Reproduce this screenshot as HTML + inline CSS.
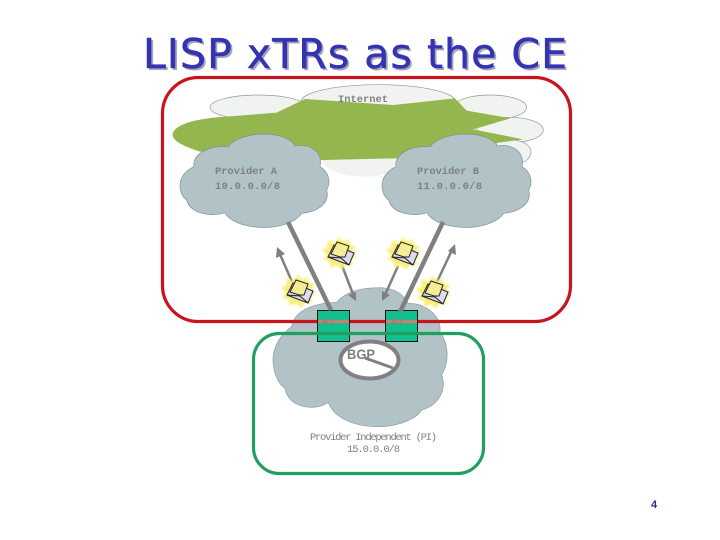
<!DOCTYPE html>
<html><head><meta charset="utf-8"><title>LISP xTRs as the CE</title>
<style>html,body{margin:0;padding:0;background:#fff}svg{display:block}
.m{font-family:"Liberation Mono",monospace;fill:#808080}
.b{font-weight:bold;font-size:10.5px}
.t{font-family:"DejaVu Sans","Liberation Sans",sans-serif;font-size:41px}
</style></head><body>
<svg width="720" height="540" viewBox="0 0 720 540" xmlns="http://www.w3.org/2000/svg">
<defs>
<filter id="bl" x="-30%" y="-30%" width="160%" height="160%"><feGaussianBlur stdDeviation="1.2"/></filter>
<g id="env">
  <polygon points="0,-17 4,-12 10,-15 10,-9 17,-8 13,-3 18,2 12,5 14,12 7,10 3,16 -2,11 -9,14 -9,7 -16,6 -12,1 -17,-4 -11,-7 -12,-14 -5,-11" fill="#f8ee78" filter="url(#bl)"/>
  <polygon points="-11,3 10,11 15,-1 -5,-9" fill="#dcdcf0" stroke="#222" stroke-width="1"/>
  <polygon points="-8,0 -2,-12 10,-8 6,3 1,3" fill="#f4ec96" stroke="#222" stroke-width="1"/>
  <polyline points="-11,3 2,4 10,11" fill="none" stroke="#222" stroke-width="1"/>
</g>
<path id="cl" d="M72,110 C65,80 105,45 175,50 C190,28 235,12 280,12 C330,12 365,28 375,48 C420,40 460,65 450,110 C475,125 485,155 470,180 C480,215 450,245 395,250 C375,280 320,295 270,292 C215,290 175,270 165,248 C120,262 60,250 50,210 C25,195 15,135 72,110 Z" fill="#b1c3c7" stroke="#7f8f94" stroke-width="2"/>
</defs>
<rect width="720" height="540" fill="#fff"/>

<!-- Internet backdrop clouds -->
<g transform="translate(130,20) scale(.3333)" fill="#f1f3f1" stroke="#8a9a90" stroke-width="2">
  <ellipse cx="385" cy="262" rx="145" ry="37"/>
  <ellipse cx="1080" cy="262" rx="110" ry="37"/>
  <ellipse cx="1140" cy="330" rx="100" ry="38"/>
  <path d="M1100,360 C1210,350 1220,400 1185,425 L1100,430 Z"/>
  <ellipse cx="745" cy="245" rx="232" ry="51"/>
  <path d="M570,410 L800,410 C800,450 770,472 700,470 C630,468 580,450 570,410 Z" stroke="none"/>
  <path d="M128,340 C140,310 200,298 260,292 L440,278 L525,237 L790,255 L975,235 L1010,272 L1142,295 L1030,328 L1180,358 L1090,370 L800,415 L580,420 L210,395 C150,375 125,360 128,340 Z" fill="#94b64e" stroke="none"/>
</g>
<text x="338" y="102" class="m" font-size="10.5" font-weight="bold" textLength="50">Internet</text>

<!-- Provider clouds -->
<g transform="translate(170,130) scale(.3333)"><use href="#cl"/></g>
<g transform="translate(372,130) scale(.3333)"><use href="#cl"/></g>
<text x="215" y="174" class="m b" textLength="62">Provider A</text>
<text x="215" y="189" class="m b" textLength="65">10.0.0.0/8</text>
<text x="417" y="174" class="m b" textLength="62">Provider B</text>
<text x="417" y="189" class="m b" textLength="65">11.0.0.0/8</text>

<!-- Center cloud -->
<g transform="translate(265,285) scale(.3333)">
<path d="M80,125 C85,85 130,55 215,52 C240,20 290,8 345,8 C395,10 415,30 430,55 C480,55 530,90 525,140 C550,175 555,230 530,270 C545,310 525,360 470,375 C460,395 410,425 340,425 C260,425 205,395 190,352 C150,380 70,370 60,310 C30,290 15,230 30,190 C40,160 60,140 80,125 Z" fill="#b1c3c7" stroke="#8a9a9e" stroke-width="2"/>
</g>

<!-- Outer red frame -->
<rect x="162.5" y="77.5" width="408" height="244" rx="36" fill="none" stroke="#c8141e" stroke-width="3.2"/>

<!-- Routers -->
<rect x="317.5" y="310.5" width="32" height="31" fill="#12c08e" stroke="#111" stroke-width="1"/>
<rect x="385.5" y="310.5" width="32" height="31" fill="#12c08e" stroke="#111" stroke-width="1"/>
<line x1="318" y1="321.5" x2="349" y2="321.5" stroke="#c8806e" stroke-width="3.2"/>
<line x1="386" y1="321.5" x2="417" y2="321.5" stroke="#c8806e" stroke-width="3.2"/>
<text x="322" y="325" class="m" font-size="10" font-weight="bold" fill-opacity=".7">R1</text>
<text x="391" y="325" class="m" font-size="10" font-weight="bold" fill-opacity=".7">R2</text>
<rect x="253.5" y="333.5" width="230" height="140" rx="26" fill="none" stroke="#1fa060" stroke-width="3.2"/>

<!-- Arrows -->
<g stroke="#808080" fill="#808080">
  <line x1="288" y1="222" x2="331" y2="310" stroke-width="4.5"/>
  <line x1="443" y1="222" x2="400" y2="312" stroke-width="4.5"/>
  <line x1="293" y1="284" x2="279" y2="252" stroke-width="2.5"/>
  <polygon points="277,247 285,254 276,258" stroke="none"/>
  <line x1="436" y1="284" x2="452" y2="250" stroke-width="2.5"/>
  <polygon points="455,244 456,255 448,251" stroke="none"/>
  <line x1="341" y1="263" x2="353" y2="294" stroke-width="2.5"/>
  <polygon points="356,301 348,295 356,292" stroke="none"/>
  <line x1="398" y1="266" x2="385" y2="295" stroke-width="2.5"/>
  <polygon points="382,301 382,291 390,295" stroke="none"/>
</g>

<!-- Envelopes -->
<use href="#env" x="298" y="292"/>
<use href="#env" x="339" y="254"/>
<use href="#env" x="403" y="254"/>
<use href="#env" x="433" y="293"/>

<!-- BGP -->
<ellipse cx="369.5" cy="360" rx="29" ry="18.5" fill="#fff" stroke="#808080" stroke-width="4"/>
<text x="347" y="359" font-family="'Liberation Sans',sans-serif" font-weight="bold" font-size="14" fill="#808080" textLength="28" lengthAdjust="spacingAndGlyphs">BGP</text>
<line x1="365" y1="358" x2="393" y2="368" stroke="#808080" stroke-width="3"/>

<!-- Labels -->
<text x="310" y="440" class="m" font-size="10.5" textLength="127">Provider Independent (PI)</text>
<text x="347" y="452" class="m" font-size="10.5" textLength="53">15.0.0.0/8</text>

<!-- Title -->
<text x="145" y="70" class="t" fill="#a4a4b4" textLength="424">LISP xTRs as the CE</text>
<text x="143" y="68" class="t" fill="#3333b4" stroke="#3333b4" stroke-width=".5" textLength="424">LISP xTRs as the CE</text>
<text x="651" y="508" font-family="'Liberation Sans',sans-serif" font-weight="bold" font-size="11" fill="#2a2a90">4</text>
</svg>
</body></html>
